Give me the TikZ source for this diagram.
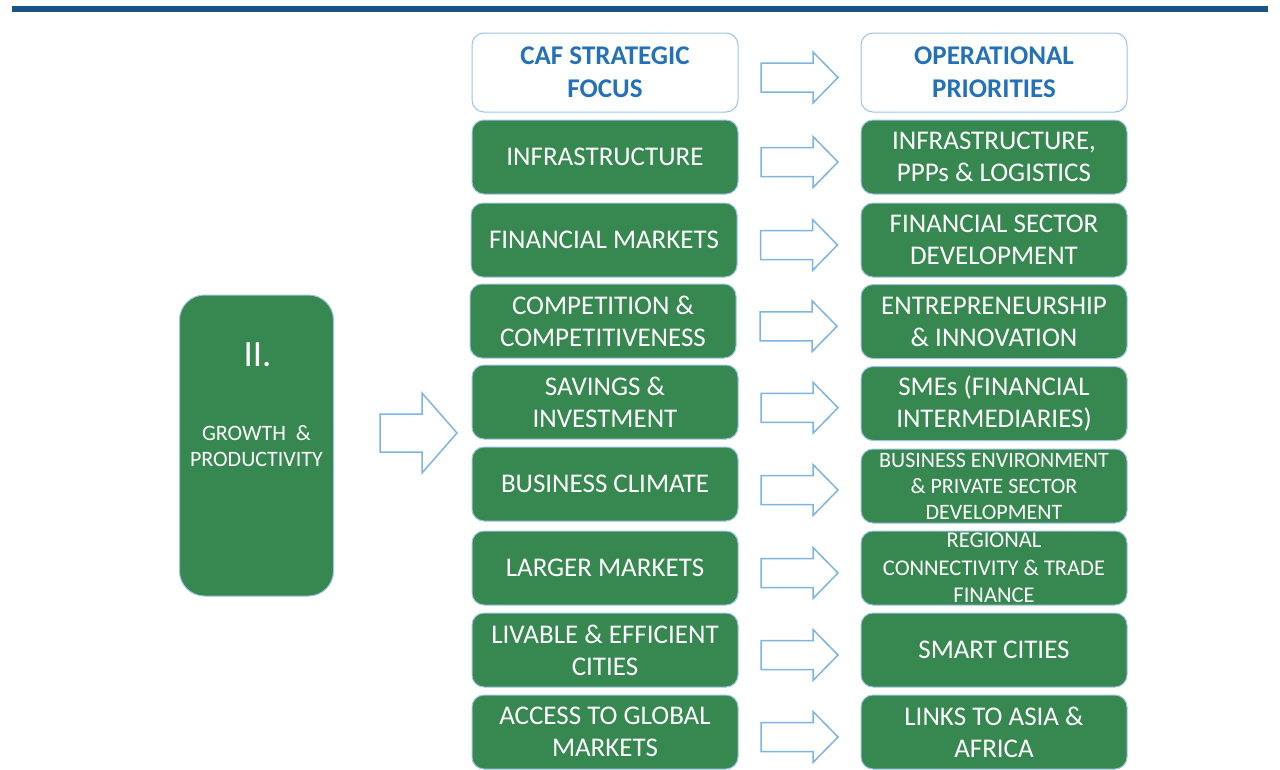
\documentclass[tikz,border=0pt]{standalone}
\usepackage{fontspec}
\setmainfont{Carlito}
\usetikzlibrary{calc}
\definecolor{boxgreen}{RGB}{55,135,80}
\definecolor{edgeblue}{RGB}{157,195,230}
\definecolor{headblue}{RGB}{36,113,185}
\definecolor{rulecol}{RGB}{26,82,134}
\definecolor{arrowblue}{RGB}{125,180,230}

% block arrow: half length / head length / shaft half height / head half height
\tikzset{pics/blockarrow/.style args={#1/#2/#3/#4}{code={
  \draw[arrowblue, line width=1.5pt, fill=white, line join=miter]
    (-#1,-#3) -- (#1-#2,-#3) -- (#1-#2,-#4) -- (#1,0) -- (#1-#2,#4)
    -- (#1-#2,#3) -- (-#1,#3) -- cycle;
}}}

\begin{document}
\begin{tikzpicture}[x=1pt,y=-1pt,
  greenbox/.style={draw=edgeblue, line width=1pt, fill=boxgreen,
    rounded corners=12pt, minimum width=266pt, minimum height=74pt,
    text=white, align=center, inner sep=0pt,
    font=\fontsize{27}{32}\selectfont},
  headbox/.style={greenbox, fill=white, text=headblue, minimum height=79pt,
    font=\fontsize{27}{33}\selectfont\bfseries},
  smallbox/.style={greenbox, font=\fontsize{22}{26}\selectfont},
  midbox/.style={greenbox, font=\fontsize{22.5}{27.5}\selectfont},
]
\useasboundingbox (0,0) rectangle (1280,769);

% top rule
\draw[rulecol, line width=5.5pt] (12,9) -- (1268,9);

% column headers
\node[headbox] (lh) at (605,72.5) {CAF STRATEGIC\\FOCUS};
\node[headbox] (rh) at (994,72.5) {OPERATIONAL\\PRIORITIES};

% strategic focus column
\node[greenbox] (l1) at (605,157)   {INFRASTRUCTURE};
\node[greenbox] (l2) at (604,240)   {FINANCIAL MARKETS};
\node[greenbox] (l3) at (603,321)   {COMPETITION \&\\COMPETITIVENESS};
\node[greenbox] (l4) at (605,402)   {SAVINGS \&\\INVESTMENT};
\node[greenbox] (l5) at (605,484)   {BUSINESS CLIMATE};
\node[greenbox] (l6) at (605,568)   {LARGER MARKETS};
\node[greenbox] (l7) at (605,650)   {LIVABLE \& EFFICIENT\\CITIES};
\node[greenbox] (l8) at (605,732)   {ACCESS TO GLOBAL\\MARKETS};

% operational priorities column
\node[greenbox] (r1) at (994,157)   {INFRASTRUCTURE,\\PPPs \& LOGISTICS};
\node[greenbox] (r2) at (994,240)   {FINANCIAL SECTOR\\DEVELOPMENT};
\node[greenbox] (r3) at (994,321.5) {ENTREPRENEURSHIP\\\& INNOVATION};
\node[greenbox] (r4) at (994,403.5) {SMEs (FINANCIAL\\INTERMEDIARIES)};
\node[smallbox] (r5) at (994,486)   {BUSINESS ENVIRONMENT\\\& PRIVATE SECTOR\\DEVELOPMENT};
\node[midbox]   (r6) at (994,568)   {REGIONAL\\CONNECTIVITY \& TRADE\\FINANCE};
\node[greenbox] (r7) at (994,650)   {SMART CITIES};
\node[greenbox] (r8) at (994,732)   {LINKS TO ASIA \&\\AFRICA};

% arrows between the columns
\foreach \a/\b in {lh/rh,l1/r1,l2/r2,l3/r3,l4/r4,l5/r5,l6/r6,l7/r7,l8/r8}
  \path ($(\a.east)!0.5!(\b.west)+(0,5)$) pic {blockarrow=38.5/25/14.5/25.5};

% pillar box
\node[draw=edgeblue, line width=1pt, fill=boxgreen, rounded corners=25pt,
  minimum width=154pt, minimum height=301pt] (big) at (256.5,445.5) {};
\node[text=white, inner sep=0pt, font=\fontsize{37}{37}\selectfont] (bignum)
  at ($(big.north)+(1,60)$) {II.};
\node[text=white, align=center, font=\fontsize{22}{26}\selectfont] (bigtxt)
  at ($(big.north)+(0,151.5)$) {GROWTH\ \ \&\\PRODUCTIVITY};

% arrow from the pillar to the focus column
\coordinate (bigarrow) at (418.5,433);
\path (bigarrow) pic {blockarrow=38.5/35/19/40};
\end{tikzpicture}
\end{document}
